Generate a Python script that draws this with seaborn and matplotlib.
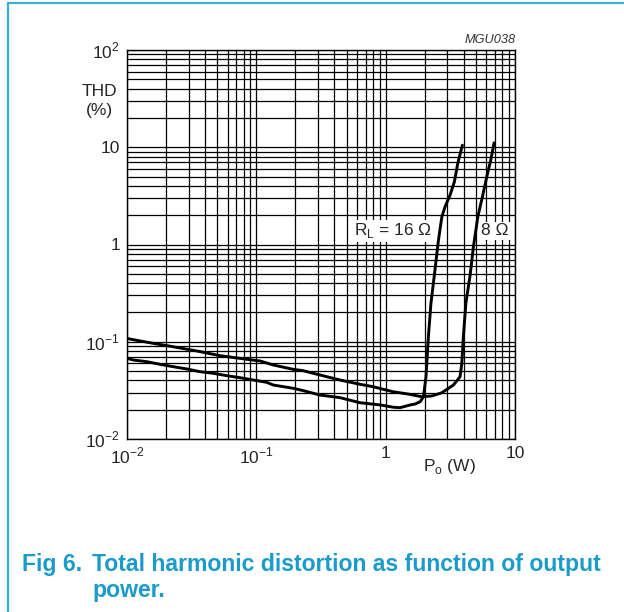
import numpy as np
import pandas as pd
import seaborn as sns
import matplotlib
matplotlib.use("Agg")
import matplotlib.pyplot as plt
from matplotlib.lines import Line2D

# THD vs output power
p_8ohm = [0.0100, 0.0126, 0.0159, 0.0227, 0.0348, 0.0524, 0.0848, 0.107, 0.135,
          0.192, 0.230, 0.311, 0.444, 0.634, 0.799, 1.14, 1.49, 1.90, 2.27, 2.72,
          3.34, 3.76, 3.88, 3.99, 4.17, 4.50, 4.77, 5.16, 5.60, 6.05, 6.50, 6.89]
thd_8ohm = [0.108, 0.102, 0.0964, 0.0889, 0.0803, 0.0719, 0.066, 0.0634, 0.0577,
            0.0521, 0.0504, 0.0455, 0.0404, 0.0365, 0.0345, 0.0306, 0.029, 0.0272,
            0.0277, 0.0299, 0.0359, 0.0437, 0.060, 0.113, 0.249, 0.486, 0.949,
            1.93, 3.10, 4.98, 7.39, 11.1]

p_16ohm = [0.0100, 0.0112, 0.0142, 0.018, 0.0228, 0.029, 0.0367, 0.0465, 0.059,
           0.0748, 0.0948, 0.120, 0.135, 0.193, 0.231, 0.311, 0.444, 0.634, 0.905,
           1.15, 1.29, 1.55, 1.69, 1.85, 1.96, 2.05, 2.14, 2.24, 2.38, 2.56, 2.72,
           2.88, 3.15, 3.40, 3.61, 3.92]
thd_16ohm = [0.0676, 0.0649, 0.0624, 0.0586, 0.0554, 0.0525, 0.0492, 0.0474, 0.0448,
             0.0427, 0.0404, 0.0383, 0.0359, 0.0332, 0.0314, 0.0283, 0.0266, 0.0236,
             0.0224, 0.0212, 0.021, 0.0224, 0.0229, 0.0242, 0.0272, 0.0437, 0.113,
             0.250, 0.486, 1.11, 1.93, 2.45, 3.23, 4.42, 6.84, 10.5]

x_ticks = [0.01, 0.1, 1, 10]
x_labels = ["$10^{-2}$", "$10^{-1}$", "1", "10"]
y_ticks = [0.01, 0.1, 1, 10, 100]
y_labels = ["$10^{-2}$", "$10^{-1}$", "1", "10", "$10^{2}$"]

df = pd.concat([
    pd.DataFrame({"P": p_8ohm, "THD": thd_8ohm, "RL": "8"}),
    pd.DataFrame({"P": p_16ohm, "THD": thd_16ohm, "RL": "16"}),
])

sns.set_style("white")
plt.rcParams["font.family"] = ["Liberation Sans", "DejaVu Sans"]
plt.rcParams["mathtext.fontset"] = "custom"
plt.rcParams["mathtext.rm"] = "Liberation Sans"

fs = 12.5
fig = plt.figure(figsize=(6.24, 6.12), dpi=100)
ax = fig.add_axes([127 / 624, 1 - 439 / 612, 388 / 624, 389 / 612])

sns.lineplot(data=df, x="P", y="THD", units="RL", estimator=None, sort=False,
             color="black", lw=2.1, ax=ax, legend=False, zorder=4)

ax.set_xscale("log")
ax.set_yscale("log")
ax.set_xlim(0.01, 10)
ax.set_ylim(0.01, 100)
ax.grid(True, which="both", color="black", lw=0.9)
for s in ax.spines.values():
    s.set_color("black")
    s.set_linewidth(1.0)
ax.set_xticks(x_ticks)
ax.set_xticklabels(x_labels, fontsize=fs)
ax.set_yticks(y_ticks)
ax.set_yticklabels(y_labels, fontsize=fs)
ax.tick_params(length=0, pad=5)
ax.set_xlabel("")
ax.set_ylabel("")

fig.text(99 / 624, 1 - 91 / 612, "THD", ha="center", va="center", fontsize=fs)
fig.text(99 / 624, 1 - 110 / 612, "(%)", ha="center", va="center", fontsize=fs)
fig.text(449 / 624, 1 - 467 / 612, "P$_{\\mathrm{o}}$ (W)", ha="center", va="center",
         fontsize=fs)
fig.text(516 / 624, 1 - 40 / 612, "MGU038", ha="right", va="center", fontsize=9.2,
         style="italic", color="#333333")

bbox = dict(boxstyle="square,pad=0.1", fc="white", ec="none")
ax.text(2.28, 1.38, "R$_{\\mathrm{L}}$ = 16 Ω", ha="right", va="center",
        fontsize=fs, bbox=bbox, zorder=3)
ax.text(5.5, 1.38, "8 Ω", ha="left", va="center", fontsize=fs, bbox=bbox, zorder=3)

blue = "#1b9bcc"
fig.add_artist(Line2D([8 / 624, 8 / 624], [0, 1 - 3 / 612], color="#3aaed6",
                      lw=1.6, transform=fig.transFigure))
fig.add_artist(Line2D([8 / 624, 1], [1 - 3 / 612, 1 - 3 / 612], color="#3aaed6",
                      lw=1.6, transform=fig.transFigure))
fs_cap = 16.6
fig.text(22 / 624, 1 - 564 / 612, "Fig 6.", fontsize=fs_cap, fontweight="bold",
         color=blue, va="center")
fig.text(92 / 624, 1 - 564 / 612, "Total harmonic distortion as function of output",
         fontsize=fs_cap, fontweight="bold", color=blue, va="center")
fig.text(92 / 624, 1 - 591 / 612, "power.", fontsize=fs_cap, fontweight="bold",
         color=blue, va="center")

fig.savefig("out.png", dpi=100)
